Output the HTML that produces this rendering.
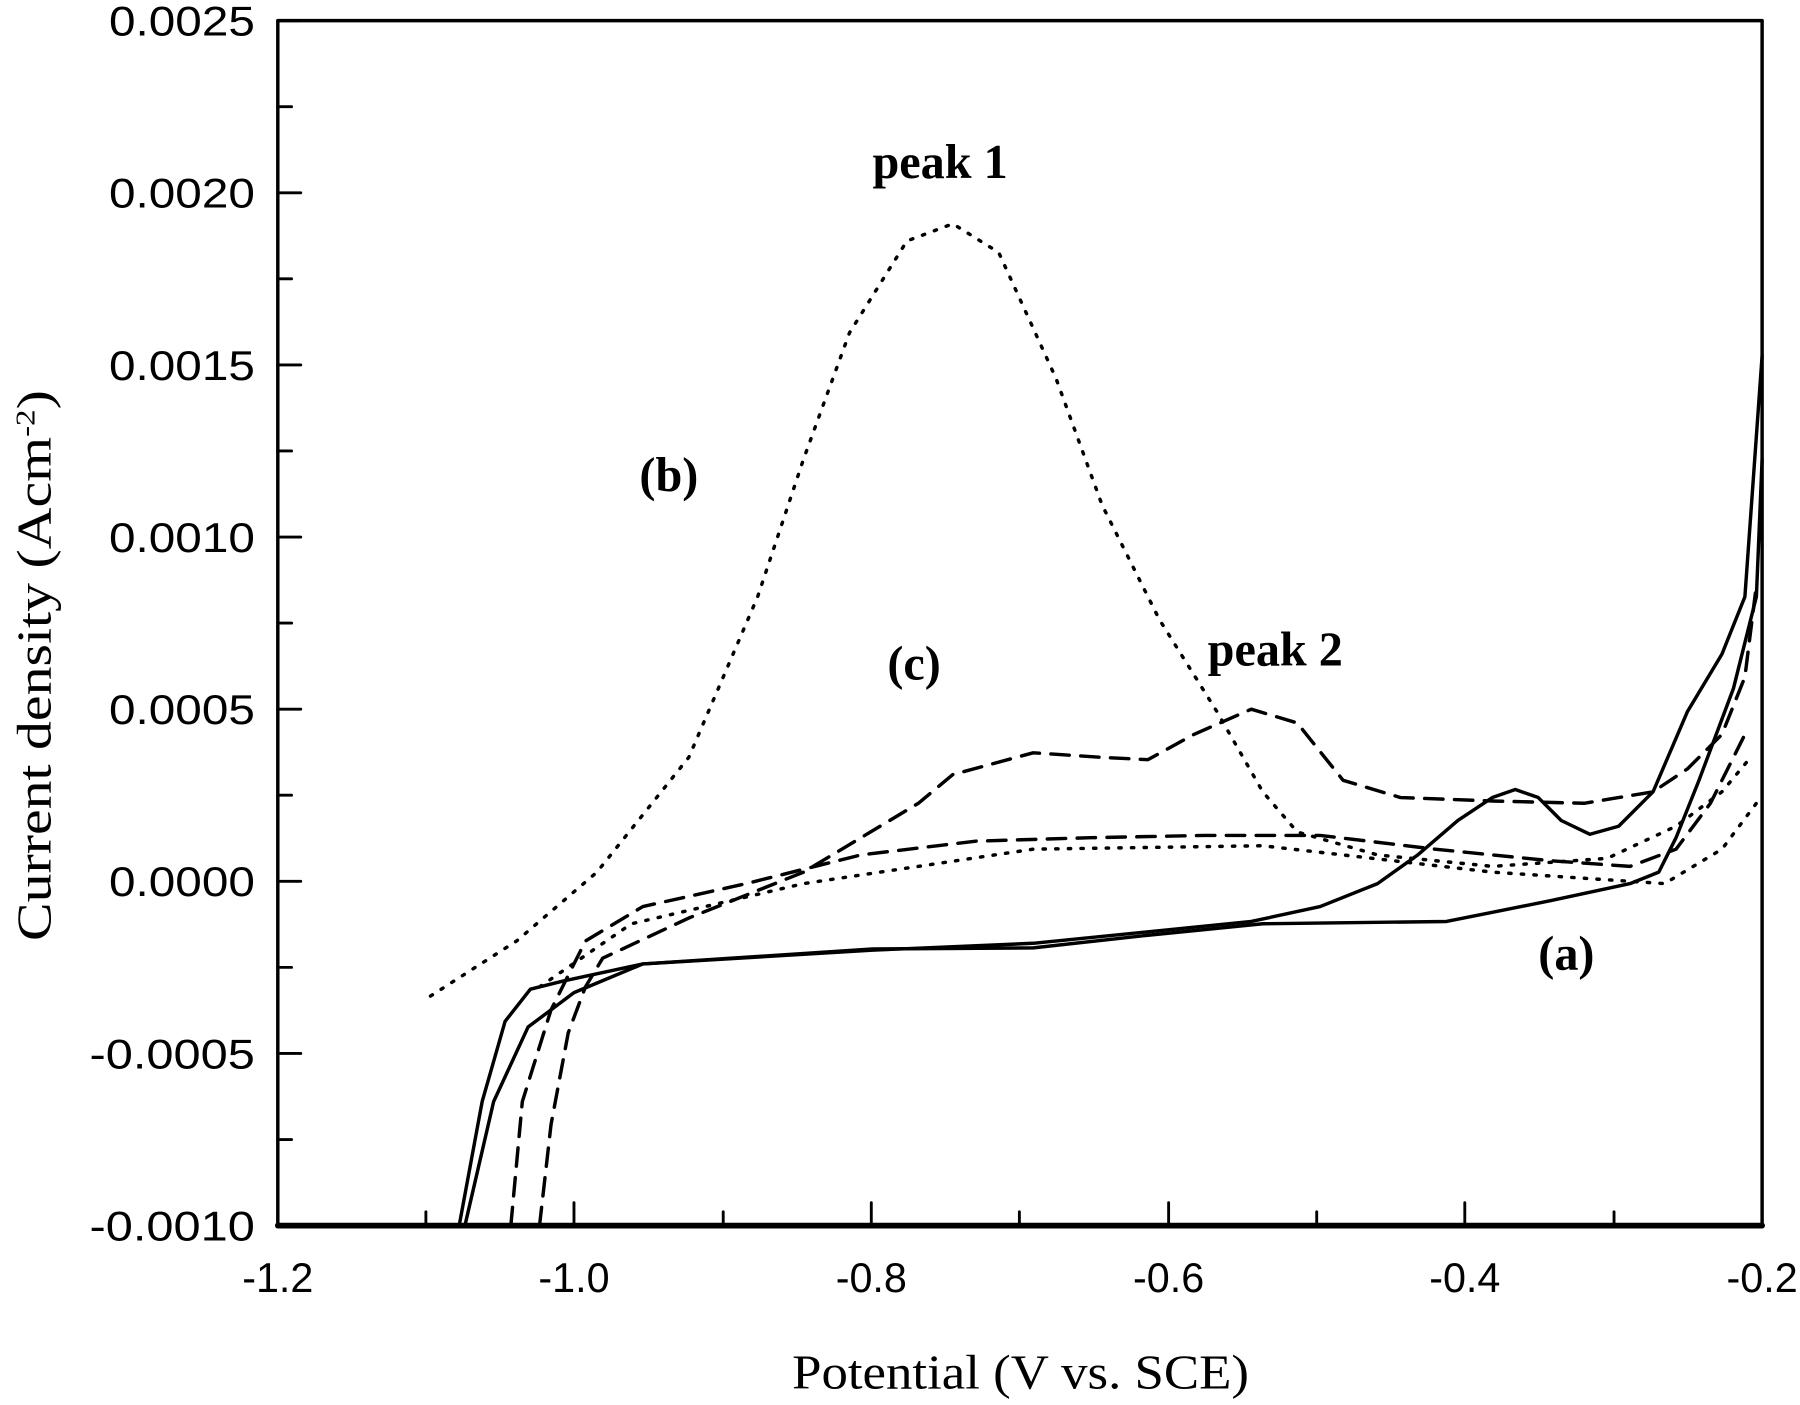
<!DOCTYPE html><html><head><style>html,body{margin:0;padding:0;background:#fff}</style></head><body>
<svg width="1800" height="1400" viewBox="0 0 1568 1220" preserveAspectRatio="none" xmlns="http://www.w3.org/2000/svg">
<g fill="none" stroke="#000" stroke-linejoin="round" stroke-linecap="round">
<rect x="242" y="18" width="1293" height="1050" stroke-width="3"/>
<line x1="242" y1="1068" x2="1535" y2="1068" stroke-width="5"/>
<g stroke-width="2.5">
<path d="M242 18h20M242 168h20M242 318h20M242 468h20M242 618h20M242 768h20M242 918h20M242 1068h20
M242 93h12M242 243h12M242 393h12M242 543h12M242 693h12M242 843h12M242 993h12
M500 1068v-20M759 1068v-20M1018 1068v-20M1276 1068v-20
M371 1068v-12M630 1068v-12M888 1068v-12M1147 1068v-12M1406 1068v-12"/>
</g>
<g stroke-width="3">
<polyline points="400,1068 420,960 440,890 462,862 490,855 560,840 760,828 900,822 1000,812 1090,803 1150,790 1200,770 1235,745 1270,715 1300,695 1320,688 1340,695 1360,715 1385,727 1410,720 1440,690 1470,620 1500,570 1520,520 1535,310"/>
<polyline points="405,1068 430,960 460,895 500,865 560,840 760,827 900,826 1000,815 1100,805 1260,803 1300,795 1350,785 1420,770 1445,760 1460,730 1480,680 1510,600 1530,520 1535,400"/>
</g>
<g stroke-width="3" stroke-dasharray="16,10">
<polyline points="470,1068 480,980 495,900 510,860 525,835 600,800 700,760 800,700 830,675 900,656 960,660 1000,662 1040,640 1090,618 1130,630 1170,680 1220,695 1300,698 1380,700 1440,690 1470,670 1500,640 1520,590 1530,510"/>
<polyline points="445,1068 455,960 480,880 510,820 560,790 650,770 750,745 850,733 950,730 1050,728 1150,728 1250,740 1350,750 1420,755 1460,740 1490,700 1520,640"/>
</g>
<g stroke-width="3" stroke-dasharray="2,9">
<polyline points="375,868 450,820 520,760 600,660 660,520 700,400 740,290 790,210 830,195 870,220 920,330 960,440 1010,540 1060,620 1100,690 1130,725 1200,745 1300,755 1400,748 1460,720 1500,690 1525,660"/>
<polyline points="470,860 550,805 700,770 900,740 1100,737 1300,760 1450,770 1500,740 1530,700"/>
</g>
</g>
<g font-family="Liberation Sans, sans-serif" font-size="36" fill="#000" text-anchor="end" lengthAdjust="spacingAndGlyphs">
<text x="222" y="31" textLength="127" lengthAdjust="spacingAndGlyphs">0.0025</text><text x="222" y="181" textLength="127" lengthAdjust="spacingAndGlyphs">0.0020</text><text x="222" y="331" textLength="127" lengthAdjust="spacingAndGlyphs">0.0015</text><text x="222" y="481" textLength="127" lengthAdjust="spacingAndGlyphs">0.0010</text><text x="222" y="631" textLength="127" lengthAdjust="spacingAndGlyphs">0.0005</text><text x="222" y="781" textLength="127" lengthAdjust="spacingAndGlyphs">0.0000</text><text x="222" y="931" textLength="144" lengthAdjust="spacingAndGlyphs">-0.0005</text><text x="222" y="1081" textLength="144" lengthAdjust="spacingAndGlyphs">-0.0010</text>
</g>
<g font-family="Liberation Sans, sans-serif" font-size="36" fill="#000" text-anchor="middle">
<text x="242" y="1126">-1.2</text><text x="500" y="1126">-1.0</text><text x="759" y="1126">-0.8</text><text x="1018" y="1126">-0.6</text><text x="1276" y="1126">-0.4</text><text x="1535" y="1126">-0.2</text>
</g>
<g font-family="Liberation Serif, serif" fill="#000">
<text x="690" y="1210" font-size="42" textLength="398" lengthAdjust="spacingAndGlyphs">Potential (V vs. SCE)</text>
<text transform="translate(44,820) rotate(-90)" font-size="42" textLength="480" lengthAdjust="spacingAndGlyphs">Current density (Acm<tspan font-size="24" dy="-14">-2</tspan><tspan dy="14">)</tspan></text>
<g font-weight="bold" font-size="42">
<text x="760" y="155">peak 1</text><text x="557" y="428">(b)</text><text x="773" y="592">(c)</text><text x="1052" y="580">peak 2</text><text x="1340" y="845">(a)</text>
</g>
</g>
</svg>
</body></html>
